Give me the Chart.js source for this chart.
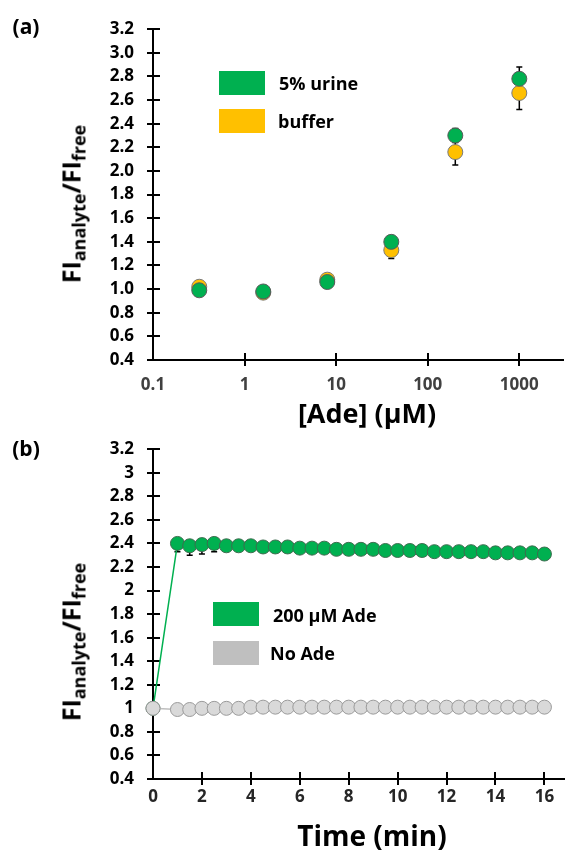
<!DOCTYPE html>
<html>
<head>
<meta charset="utf-8">
<script src="https://cdn.jsdelivr.net/npm/chart.js@4.4.0/dist/chart.umd.min.js"></script>
<style>
  body { margin: 0; background: #fff; }
  #wrap { position: relative; width: 572px; height: 852px; font-family: "Open Sans", Lato, sans-serif; font-weight: bold; color: #000; overflow: hidden; }
  canvas { position: absolute; left: 0; }
  .lbl { position: absolute; white-space: nowrap; transform: translate(0, -50%); font-size: 18px; line-height: 1; }
  .ctr { position: absolute; white-space: nowrap; transform: translate(-50%, -50%); line-height: 1; }
  .ytitle { position: absolute; white-space: nowrap; transform: translate(-50%, -50%) rotate(-90deg); font-size: 25px; line-height: 1; }
  .ytitle sub { font-size: 18px; vertical-align: -0.3em; line-height: 0; }
  .box { position: absolute; width: 46px; height: 24px; }
</style>
</head>
<body>
<div id="wrap">
  <canvas id="chartA" width="572" height="400" style="top:0"></canvas>
  <canvas id="chartB" width="572" height="420" style="top:420px"></canvas>

  <div class="ctr" style="left:26px;top:26px;font-size:21px">(a)</div>
  <div class="ytitle" style="left:71px;top:204px">FI<sub>analyte</sub>/FI<sub>free</sub></div>
  <div class="ctr" style="left:367px;top:412px;font-size:27px">[Ade] (µM)</div>
  <div class="box" style="left:219px;top:71px;background:#00B050"></div>
  <div class="lbl" style="left:279px;top:83px">5% urine</div>
  <div class="box" style="left:219px;top:109px;background:#FFC000"></div>
  <div class="lbl" style="left:278px;top:121px">buffer</div>

  <div class="ctr" style="left:26px;top:448px;font-size:21px">(b)</div>
  <div class="ytitle" style="left:71px;top:642px">FI<sub>analyte</sub>/FI<sub>free</sub></div>
  <div class="ctr" style="left:372px;top:835px;font-size:28px">Time (min)</div>
  <div class="box" style="left:213px;top:602px;background:#00B050"></div>
  <div class="lbl" style="left:273px;top:615px">200 µM Ade</div>
  <div class="box" style="left:213px;top:641px;background:#BFBFBF"></div>
  <div class="lbl" style="left:270px;top:653px">No Ade</div>
</div>

<script>
// panel (a): response vs adenine concentration
const concUM = [0.32, 1.6, 8, 40, 200, 1000];
const urineFI = [0.99, 0.98, 1.06, 1.40, 2.30, 2.78];
const urineErr = [0.02, 0.02, 0.02, 0.03, 0.06, 0.10];
const bufferFI = [1.02, 0.97, 1.08, 1.33, 2.16, 2.66];
const bufferErr = [0.02, 0.02, 0.02, 0.07, 0.11, 0.14];
const concTicks = [0.1, 1, 10, 100, 1000];
const fiTicksA = [0.4, 0.6, 0.8, 1.0, 1.2, 1.4, 1.6, 1.8, 2.0, 2.2, 2.4, 2.6, 2.8, 3.0, 3.2];

// panel (b): response over time
const timeMin = [0, 1, 1.5, 2, 2.5, 3, 3.5, 4, 4.5, 5, 5.5, 6, 6.5, 7, 7.5, 8, 8.5,
  9, 9.5, 10, 10.5, 11, 11.5, 12, 12.5, 13, 13.5, 14, 14.5, 15, 15.5, 16];
const adeFI = [1.00, 2.40, 2.38, 2.39, 2.40, 2.38, 2.38, 2.38, 2.37, 2.37, 2.37, 2.36, 2.36, 2.36, 2.35, 2.35, 2.35,
  2.35, 2.34, 2.34, 2.34, 2.34, 2.33, 2.33, 2.33, 2.33, 2.33, 2.32, 2.32, 2.32, 2.32, 2.31];
const adeErr = [0, 0.07, 0.08, 0.08, 0.07, 0, 0, 0, 0, 0, 0, 0, 0, 0, 0, 0, 0,
  0, 0, 0, 0, 0, 0, 0, 0, 0, 0, 0, 0, 0, 0, 0];
const noAdeFI = [1.00, 0.99, 0.99, 1.00, 1.00, 1.00, 1.00, 1.01, 1.01, 1.01, 1.01, 1.01, 1.01, 1.01, 1.01, 1.01, 1.01,
  1.01, 1.01, 1.01, 1.01, 1.01, 1.01, 1.01, 1.01, 1.01, 1.01, 1.01, 1.01, 1.01, 1.01, 1.01];
const timeTicks = [0, 2, 4, 6, 8, 10, 12, 14, 16];
const fiTicksB = [0.4, 0.6, 0.8, 1, 1.2, 1.4, 1.6, 1.8, 2, 2.2, 2.4, 2.6, 2.8, 3, 3.2];

const tickFont = { family: "'Open Sans', Lato, sans-serif", size: 17, weight: "bold" };

// error bars, drawn under the markers ("down" = lower half only)
const errBars = {
  id: "errBars",
  beforeDatasetsDraw(chart, args, opts) {
    const ctx = chart.ctx, ys = chart.scales.y;
    ctx.save();
    ctx.strokeStyle = "#000";
    ctx.lineWidth = 1.5;
    (opts.sets || []).forEach((s) => {
      const ds = chart.data.datasets[s.index];
      chart.getDatasetMeta(s.index).data.forEach((pt, k) => {
        const e = s.err[k];
        if (!e) return;
        const v = ds.data[k].y;
        const y1 = ys.getPixelForValue(s.down ? v : v + e), y2 = ys.getPixelForValue(v - e);
        ctx.beginPath();
        ctx.moveTo(pt.x, y1); ctx.lineTo(pt.x, y2);
        if (!s.down) { ctx.moveTo(pt.x - 3, y1); ctx.lineTo(pt.x + 3, y1); }
        ctx.moveTo(pt.x - 3, y2); ctx.lineTo(pt.x + 3, y2);
        ctx.stroke();
      });
    });
    ctx.restore();
  },
};

// tick marks that cross the axis lines
const crossTicks = {
  id: "crossTicks",
  beforeDatasetsDraw(chart) {
    const ctx = chart.ctx, xs = chart.scales.x, ys = chart.scales.y;
    const a = chart.chartArea;
    ctx.save();
    ctx.strokeStyle = "#000";
    ctx.lineWidth = 2;
    ctx.beginPath();
    ys.ticks.forEach((t) => {
      const y = Math.round(ys.getPixelForValue(t.value));
      ctx.moveTo(a.left - 6, y); ctx.lineTo(a.left + 7, y);
    });
    xs.ticks.slice(1).forEach((t) => {
      const x = Math.round(xs.getPixelForValue(t.value));
      ctx.moveTo(x, a.bottom - 7); ctx.lineTo(x, a.bottom + 6);
    });
    ctx.stroke();
    ctx.restore();
  },
};

function axis(extra) {
  return Object.assign({
    grid: { drawOnChartArea: false, drawTicks: false },
    border: { color: "#000", width: 2 },
  }, extra);
}

function fmt(v) { return String(+Number(v).toFixed(1)); }

function makeCharts() {
  new Chart(document.getElementById("chartA"), {
    type: "scatter",
    data: {
      datasets: [
        {
          label: "5% urine",
          data: concUM.map((c, i) => ({ x: c, y: urineFI[i] })),
          backgroundColor: "#00B050",
          borderColor: "#5a5a5a",
        },
        {
          label: "buffer",
          data: concUM.map((c, i) => ({ x: c, y: bufferFI[i] })),
          backgroundColor: "#FFC000",
          borderColor: "#7a7a7a",
        },
      ],
    },
    options: {
      responsive: false,
      animation: false,
      devicePixelRatio: 1,
      layout: { padding: { top: 25, right: 9, left: 0, bottom: 0 } },
      elements: { point: { radius: 7.5, borderWidth: 1, hoverRadius: 7.5 } },
      datasets: { scatter: { clip: false } },
      plugins: {
        legend: { display: false },
        tooltip: { enabled: false },
        errBars: { sets: [{ index: 0, err: urineErr }, { index: 1, err: bufferErr }] },
      },
      scales: {
        x: axis({
          type: "logarithmic", min: 0.1, max: 3000,
          afterBuildTicks: (s) => { s.ticks = concTicks.map((v) => ({ value: v })); },
          afterFit: (s) => { s.height = 40; s.paddingLeft = 0; s.paddingRight = 0; },
          ticks: { callback: (v) => String(v), font: tickFont, color: "#404040", padding: 15, autoSkip: false, maxRotation: 0 },
        }),
        y: axis({
          min: 0.4, max: 3.2,
          afterBuildTicks: (s) => { s.ticks = fiTicksA.map((v) => ({ value: v })); },
          afterFit: (s) => { s.width = 153; },
          ticks: { callback: (v) => Number(v).toFixed(1), font: tickFont, color: "#000", padding: 19 },
        }),
      },
    },
    plugins: [errBars, crossTicks],
  });

  new Chart(document.getElementById("chartB"), {
    type: "scatter",
    data: {
      datasets: [
        {
          label: "No Ade",
          data: timeMin.map((t, i) => ({ x: t, y: noAdeFI[i] })),
          showLine: true,
          backgroundColor: "#D9D9D9",
          borderColor: "#BFBFBF",
          pointBorderColor: "#9a9a9a",
          borderWidth: 1.5,
          pointBorderWidth: 1,
        },
        {
          label: "200 µM Ade",
          data: timeMin.map((t, i) => ({ x: t, y: adeFI[i] })),
          showLine: true,
          backgroundColor: "#00B050",
          borderColor: "#00B050",
          pointBorderColor: "#3f6b4f",
          borderWidth: 1.5,
          pointBorderWidth: 1,
        },
      ],
    },
    options: {
      responsive: false,
      animation: false,
      devicePixelRatio: 1,
      layout: { padding: { top: 25, right: 2, left: 0, bottom: 0 } },
      elements: { point: { radius: 7, hoverRadius: 7 }, line: { tension: 0 } },
      datasets: { scatter: { clip: false } },
      plugins: {
        legend: { display: false },
        tooltip: { enabled: false },
        errBars: { sets: [{ index: 1, err: adeErr, down: true }] },
      },
      scales: {
        x: axis({
          min: 0, max: 16.8,
          afterBuildTicks: (s) => { s.ticks = timeTicks.map((v) => ({ value: v })); },
          afterFit: (s) => { s.height = 61; s.paddingLeft = 0; s.paddingRight = 0; },
          ticks: { callback: (v) => String(v), font: tickFont, color: "#262626", padding: 8, autoSkip: false, maxRotation: 0 },
        }),
        y: axis({
          min: 0.4, max: 3.2,
          afterBuildTicks: (s) => { s.ticks = fiTicksB.map((v) => ({ value: v })); },
          afterFit: (s) => { s.width = 153; },
          ticks: { callback: fmt, font: tickFont, color: "#000", padding: 19 },
        }),
      },
    },
    plugins: [errBars, crossTicks],
  });
}

document.fonts.load("bold 17px 'Open Sans'").then(makeCharts, makeCharts);
</script>
</body>
</html>
